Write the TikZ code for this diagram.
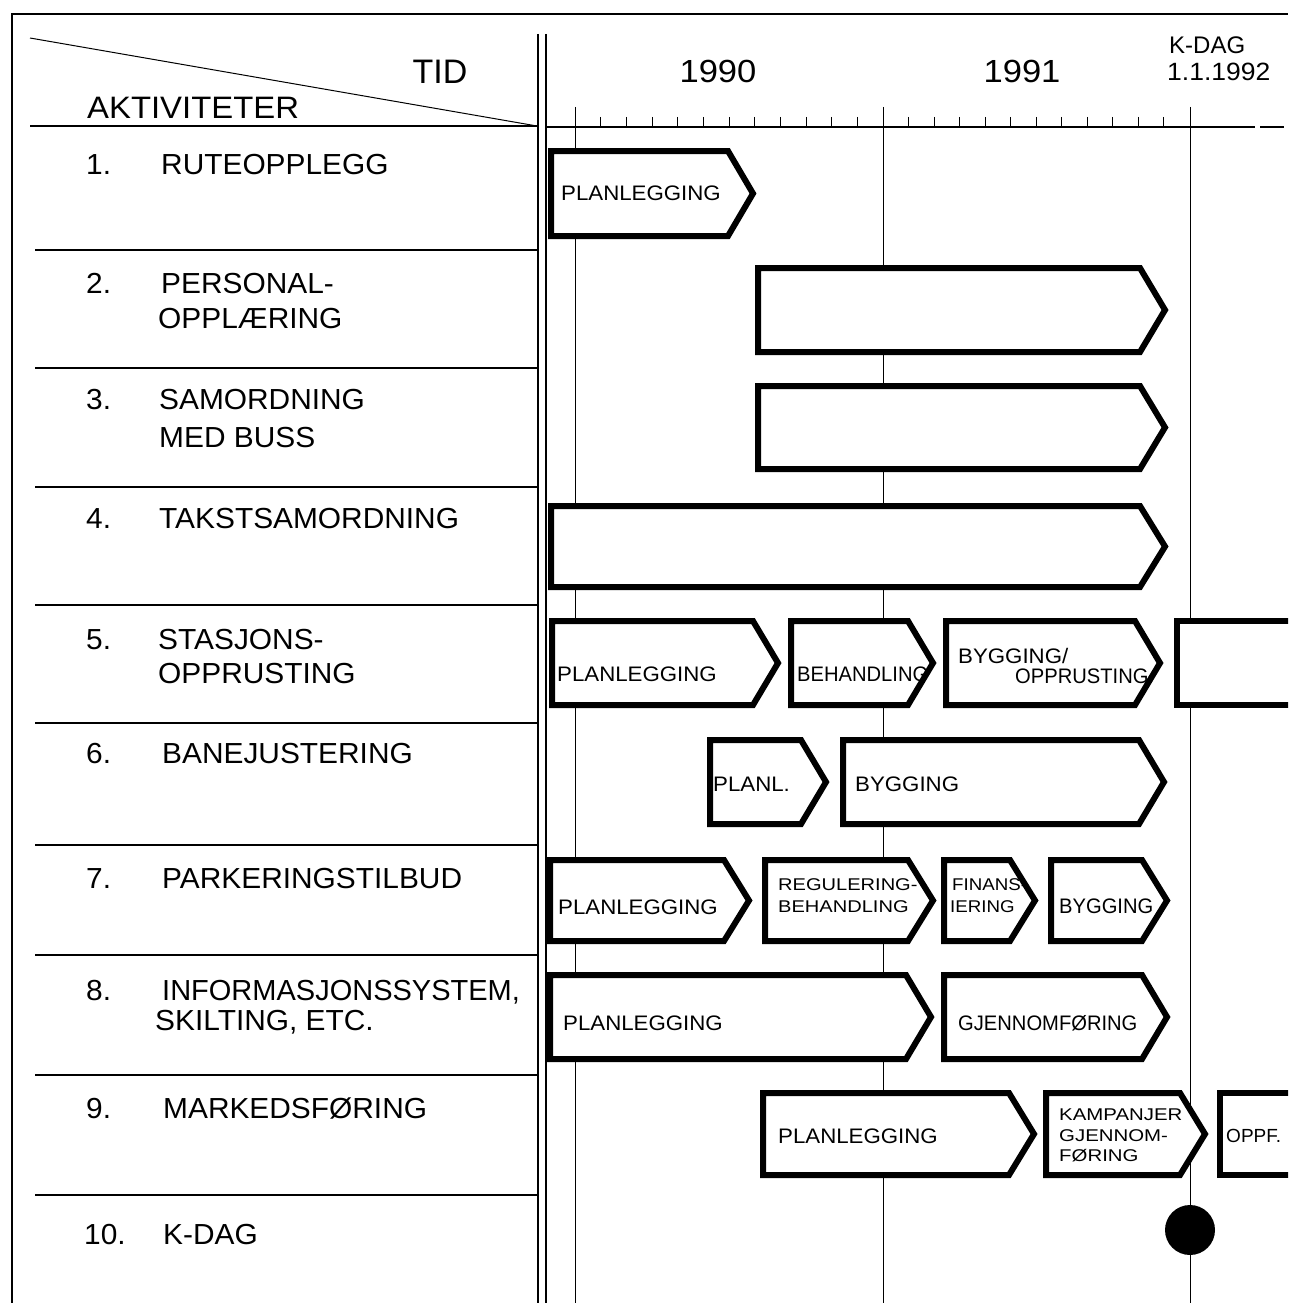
\documentclass[tikz,border=0pt]{standalone}
\usepackage{fontspec}
\setmainfont{Liberation Sans}
\usepackage{graphicx}
\newcommand\stretchtxt[2]{\scalebox{#1}[1]{#2}}
\newcommand\actbar[4]{%
  \draw[actbox] (#1,#3) -- ({#2-25},#3) -- (#2,{(#3+#4)/2}) -- ({#2-25},#4) -- (#1,#4) -- cycle;}
\begin{document}
\begin{tikzpicture}[x=1pt,y=-1pt,
  frame/.style={line width=2.2pt},
  gridline/.style={line width=1.3pt},
  thinline/.style={line width=1pt},
  actbox/.style={line width=6pt, line join=miter, fill=white},
  hdrtxt/.style={anchor=base, inner sep=0pt, font=\fontsize{32}{34}\selectfont},
  rowtxt/.style={anchor=base west, inner sep=0pt, font=\fontsize{29}{31}\selectfont},
  bartxt/.style={anchor=base west, inner sep=0pt, font=\fontsize{21}{22}\selectfont},
  smalltxt/.style={anchor=base west, inner sep=0pt, font=\fontsize{17}{18}\selectfont},
]
\useasboundingbox (0,0) rectangle (1288,1303);
\clip (0,0) rectangle (1288,1303);

% frame
\draw[frame] (12,1303) -- (12,14) -- (1288,14);
% double divider
\draw[gridline] (538,34) -- (538,1303);
\draw[gridline] (546,34) -- (546,1303);
% header
\draw[thinline] (30,38) -- (537,126);
\draw[gridline] (30,126) -- (537,126);
% time axis
\draw[gridline] (546,127) -- (1255,127);
\draw[gridline] (1260,127) -- (1284,127);
\foreach \x in {575,883,1190} \draw[thinline] (\x,107) -- (\x,1303);
\foreach \k in {1,...,11} {
  \draw[thinline] ({575+\k*25.67},117) -- ({575+\k*25.67},127);
  \draw[thinline] ({883+\k*25.5},117) -- ({883+\k*25.5},127);
}
% row separators
\foreach \y in {250,368,487,605,723,845,955,1075,1195} \draw[gridline] (35,\y) -- (537,\y);

% header texts
\node[hdrtxt, font=\fontsize{34}{36}\selectfont] (tid) at (440,84) {TID};
\node[hdrtxt, anchor=base west, font=\fontsize{31}{33}\selectfont] (akt) at (87,118) {\stretchtxt{1.06}{AKTIVITETER}};
\node[hdrtxt] (y1990) at (718,83) {\stretchtxt{1.08}{1990}};
\node[hdrtxt] (y1991) at (1022,83) {\stretchtxt{1.08}{1991}};
\node[hdrtxt, anchor=base west, font=\fontsize{24}{25}\selectfont] (kd) at (1169,54) {K-DAG};
\node[hdrtxt, anchor=base west, font=\fontsize{25}{26}\selectfont] (kdate) at (1167,81) {\stretchtxt{1.06}{1.1.1992}};

% row labels
\node[rowtxt] (n1) at (86,174) {\stretchtxt{1.03}{1.}};
\node[rowtxt] (r1) at (161,174) {\stretchtxt{1.03}{RUTEOPPLEGG}};
\node[rowtxt] (n2) at (86,293) {\stretchtxt{1.03}{2.}};
\node[rowtxt] (r2a) at (161,293) {\stretchtxt{1.03}{PERSONAL-}};
\node[rowtxt] (r2b) at (158,328) {\stretchtxt{1.03}{OPPLÆRING}};
\node[rowtxt] (n3) at (86,409) {\stretchtxt{1.03}{3.}};
\node[rowtxt] (r3a) at (159,409) {\stretchtxt{1.03}{SAMORDNING}};
\node[rowtxt] (r3b) at (159,447) {\stretchtxt{1.03}{MED BUSS}};
\node[rowtxt] (n4) at (86,528) {\stretchtxt{1.03}{4.}};
\node[rowtxt] (r4) at (159,528) {\stretchtxt{1.03}{TAKSTSAMORDNING}};
\node[rowtxt] (n5) at (86,649) {\stretchtxt{1.03}{5.}};
\node[rowtxt] (r5a) at (158,649) {\stretchtxt{1.03}{STASJONS-}};
\node[rowtxt] (r5b) at (158,683) {\stretchtxt{1.03}{OPPRUSTING}};
\node[rowtxt] (n6) at (86,763) {\stretchtxt{1.03}{6.}};
\node[rowtxt] (r6) at (162,763) {\stretchtxt{1.03}{BANEJUSTERING}};
\node[rowtxt] (n7) at (86,888) {\stretchtxt{1.03}{7.}};
\node[rowtxt] (r7) at (162,888) {\stretchtxt{1.03}{PARKERINGSTILBUD}};
\node[rowtxt] (n8) at (86,1000) {\stretchtxt{1.03}{8.}};
\node[rowtxt] (r8a) at (162,1000) {\stretchtxt{1.0}{INFORMASJONSSYSTEM,}};
\node[rowtxt] (r8b) at (155,1030) {\stretchtxt{1.03}{SKILTING, ETC.}};
\node[rowtxt] (n9) at (86,1118) {\stretchtxt{1.03}{9.}};
\node[rowtxt] (r9) at (163,1118) {\stretchtxt{1.03}{MARKEDSFØRING}};
\node[rowtxt] (n10) at (84,1244) {\stretchtxt{1.03}{10.}};
\node[rowtxt] (r10) at (163,1244) {\stretchtxt{1.03}{K-DAG}};

% activity bars
\actbar{551}{753}{151}{236}
\actbar{758}{1165}{268}{352}
\actbar{758}{1165}{386}{469}
\actbar{551}{1165}{506}{587}
\actbar{552}{778}{621}{705}
\actbar{791}{933}{621}{705}
\actbar{946}{1160}{621}{705}
\draw[actbox] (1300,621) -- (1177,621) -- (1177,705) -- (1300,705);
\actbar{710}{826}{740}{824}
\actbar{843}{1164}{740}{824}
\actbar{550}{749}{860}{941}
\actbar{765}{933}{860}{941}
\actbar{944}{1035}{860}{941}
\actbar{1051}{1167}{860}{941}
\actbar{550}{931}{975}{1059}
\actbar{944}{1167}{975}{1059}
\actbar{763}{1034}{1093}{1175}
\actbar{1046}{1205}{1093}{1175}
\draw[actbox] (1300,1093) -- (1220,1093) -- (1220,1175) -- (1300,1175);

% bar labels
\node[bartxt] (b1) at (561,200) {\stretchtxt{1.06}{PLANLEGGING}};
\node[bartxt] (b5a) at (557,681) {\stretchtxt{1.06}{PLANLEGGING}};
\node[bartxt] (b5b) at (797,681) {\stretchtxt{0.96}{BEHANDLING}};
\node[bartxt] (b5c) at (958,663) {\stretchtxt{1.06}{BYGGING/}};
\node[bartxt] (b5d) at (1015,683) {\stretchtxt{0.96}{OPPRUSTING}};
\node[bartxt] (b6a) at (713,791) {\stretchtxt{1.06}{PLANL.}};
\node[bartxt] (b6b) at (855,791) {\stretchtxt{1.06}{BYGGING}};
\node[bartxt] (b7a) at (558,914) {\stretchtxt{1.06}{PLANLEGGING}};
\node[smalltxt] (b7b1) at (778,890) {\stretchtxt{1.18}{REGULERING-}};
\node[smalltxt] (b7b2) at (778,912) {\stretchtxt{1.18}{BEHANDLING}};
\node[smalltxt] (b7c1) at (952,890) {\stretchtxt{1.1}{FINANS-}};
\node[smalltxt] (b7c2) at (950,912) {\stretchtxt{1.1}{IERING}};
\node[bartxt] (b7d) at (1059,913) {\stretchtxt{0.96}{BYGGING}};
\node[bartxt] (b8a) at (563,1030) {\stretchtxt{1.06}{PLANLEGGING}};
\node[bartxt] (b8b) at (958,1030) {\stretchtxt{0.96}{GJENNOMFØRING}};
\node[bartxt] (b9a) at (778,1143) {\stretchtxt{1.06}{PLANLEGGING}};
\node[smalltxt] (b9b1) at (1059,1120) {\stretchtxt{1.2}{KAMPANJER}};
\node[smalltxt] (b9b2) at (1059,1141) {\stretchtxt{1.2}{GJENNOM-}};
\node[smalltxt] (b9b3) at (1059,1161) {\stretchtxt{1.2}{FØRING}};
\node[bartxt, font=\fontsize{19}{20}\selectfont] (b9c) at (1226,1142) {OPPF.};

% K-dag milestone
\node[circle, fill=black, minimum size=50pt, inner sep=0pt] (kdag) at (1190,1230) {};
\end{tikzpicture}
\end{document}
